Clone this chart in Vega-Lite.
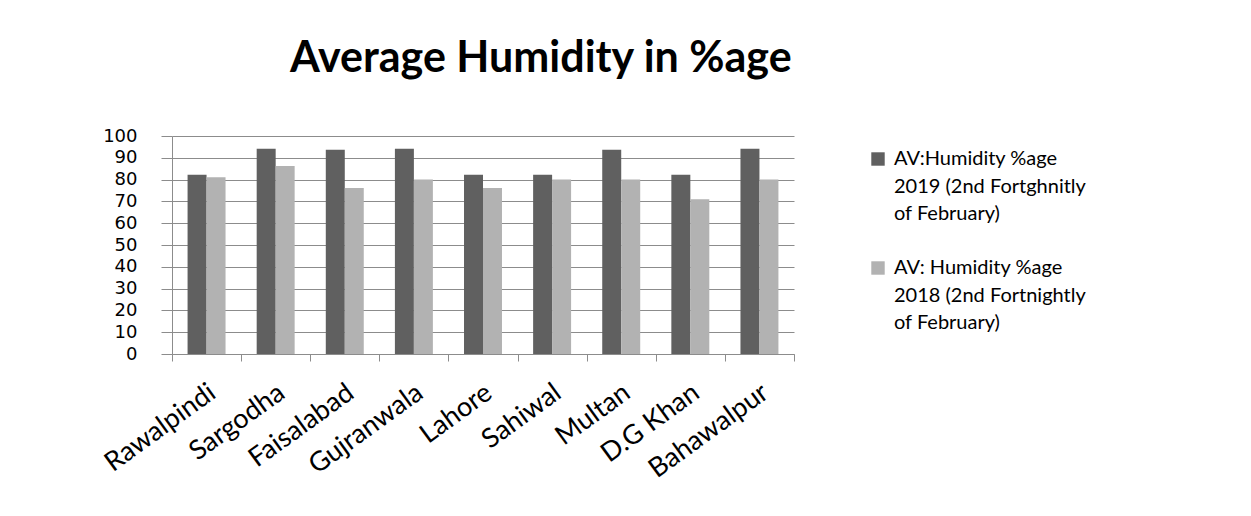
{
  "$schema": "https://vega.github.io/schema/vega-lite/v6.json",
  "width": 622,
  "height": 218,
  "autosize": {"type": "none"},
  "padding": {"left": 172, "top": 136, "right": 457, "bottom": 162},
  "background": "white",
  "title": {
    "text": "Average Humidity in %age",
    "font": "Lato",
    "fontSize": 43,
    "fontWeight": "bold",
    "color": "#000000",
    "anchor": "start",
    "frame": "group",
    "dx": 118,
    "offset": 46
  },
  "config": {
    "view": {"stroke": null},
    "axis": {"labelColor": "#000000"}
  },
  "data": {
    "values": [
      {"city": "Rawalpindi", "series": "AV:Humidity %age 2019 (2nd Fortghnitly of February)", "value": 82.2},
      {"city": "Rawalpindi", "series": "AV: Humidity %age 2018   (2nd Fortnightly of February)", "value": 81.1},
      {"city": "Sargodha", "series": "AV:Humidity %age 2019 (2nd Fortghnitly of February)", "value": 94.2},
      {"city": "Sargodha", "series": "AV: Humidity %age 2018   (2nd Fortnightly of February)", "value": 86.2},
      {"city": "Faisalabad", "series": "AV:Humidity %age 2019 (2nd Fortghnitly of February)", "value": 93.7},
      {"city": "Faisalabad", "series": "AV: Humidity %age 2018   (2nd Fortnightly of February)", "value": 76.2},
      {"city": "Gujranwala", "series": "AV:Humidity %age 2019 (2nd Fortghnitly of February)", "value": 94.2},
      {"city": "Gujranwala", "series": "AV: Humidity %age 2018   (2nd Fortnightly of February)", "value": 80.0},
      {"city": "Lahore", "series": "AV:Humidity %age 2019 (2nd Fortghnitly of February)", "value": 82.2},
      {"city": "Lahore", "series": "AV: Humidity %age 2018   (2nd Fortnightly of February)", "value": 76.2},
      {"city": "Sahiwal", "series": "AV:Humidity %age 2019 (2nd Fortghnitly of February)", "value": 82.2},
      {"city": "Sahiwal", "series": "AV: Humidity %age 2018   (2nd Fortnightly of February)", "value": 80.0},
      {"city": "Multan", "series": "AV:Humidity %age 2019 (2nd Fortghnitly of February)", "value": 93.7},
      {"city": "Multan", "series": "AV: Humidity %age 2018   (2nd Fortnightly of February)", "value": 80.0},
      {"city": "D.G Khan", "series": "AV:Humidity %age 2019 (2nd Fortghnitly of February)", "value": 82.2},
      {"city": "D.G Khan", "series": "AV: Humidity %age 2018   (2nd Fortnightly of February)", "value": 71.0},
      {"city": "Bahawalpur", "series": "AV:Humidity %age 2019 (2nd Fortghnitly of February)", "value": 94.2},
      {"city": "Bahawalpur", "series": "AV: Humidity %age 2018   (2nd Fortnightly of February)", "value": 80.0}
    ]
  },
  "mark": {"type": "bar"},
  "encoding": {
    "x": {
      "field": "city",
      "type": "nominal",
      "sort": null,
      "title": null,
      "scale": {"paddingInner": 0, "paddingOuter": 0},
      "axis": {
        "labelAngle": -36,
        "labelFont": "Lato",
        "labelFontSize": 27,
        "labelPadding": 18,
        "labelOffset": -2,
        "tickBand": "extent",
        "tickSize": 7,
        "tickColor": "#8c8c8c",
        "domainColor": "#8c8c8c",
        "grid": false
      }
    },
    "xOffset": {
      "field": "series",
      "sort": ["AV:Humidity %age 2019 (2nd Fortghnitly of February)", "AV: Humidity %age 2018   (2nd Fortnightly of February)"],
      "scale": {"paddingInner": 0, "paddingOuter": 0.82}
    },
    "y": {
      "field": "value",
      "type": "quantitative",
      "title": null,
      "scale": {"domain": [0, 100]},
      "axis": {
        "values": [0, 10, 20, 30, 40, 50, 60, 70, 80, 90, 100],
        "labelFont": "DejaVu Sans",
        "labelFontSize": 18,
        "labelPadding": 24,
        "tickSize": 11,
        "tickColor": "#8c8c8c",
        "domainColor": "#8c8c8c",
        "gridColor": "#8c8c8c",
        "grid": true
      }
    },
    "color": {
      "field": "series",
      "type": "nominal",
      "sort": ["AV:Humidity %age 2019 (2nd Fortghnitly of February)", "AV: Humidity %age 2018   (2nd Fortnightly of February)"],
      "scale": {"range": ["#606060", "#b2b2b2"]},
      "legend": {
        "title": null,
        "orient": "none",
        "legendX": 696,
        "legendY": 13,
        "symbolType": "square",
        "symbolSize": 180,
        "symbolStrokeWidth": 0,
        "labelFont": "Lato",
        "labelFontSize": 20,
        "labelColor": "#000000",
        "labelLimit": 400,
        "labelOffset": 6,
        "rowPadding": 34,
        "encode": {"labels": {"update": {"lineHeight": {"value": 27.5}}}},
        "labelExpr": "indexof(datum.label, '2019') >= 0 ? ['AV:Humidity %age', '2019 (2nd Fortghnitly', 'of February)'] : ['AV: Humidity %age', '2018   (2nd Fortnightly', 'of February)']"
      }
    }
  }
}
